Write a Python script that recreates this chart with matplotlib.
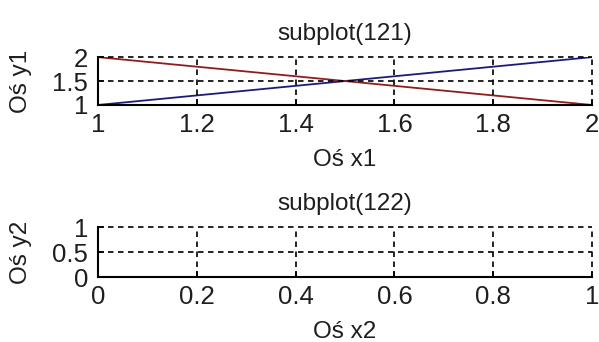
import matplotlib
matplotlib.use("Agg")
import matplotlib.pyplot as plt

plt.rcParams['font.family'] = ['Liberation Sans', 'DejaVu Sans']

# Data for the first panel: two straight lines crossing at (1.5, 1.5)
x1 = [1, 2]
y1_rising = [1, 2]
y1_falling = [2, 1]

x1_ticks = [1, 1.2, 1.4, 1.6, 1.8, 2]
x1_ticklabels = ['1', '1.2', '1.4', '1.6', '1.8', '2']
y1_ticks = [1, 1.5, 2]
y1_ticklabels = ['1', '1.5', '2']
x2_ticks = [0, 0.2, 0.4, 0.6, 0.8, 1]
x2_ticklabels = ['0', '0.2', '0.4', '0.6', '0.8', '1']
y2_ticks = [0, 0.5, 1]
y2_ticklabels = ['0', '0.5', '1']

titles = ["subplot(121)", "subplot(122)"]
xlabels = ["Oś x1", "Oś x2"]
ylabels = ["Oś y1", "Oś y2"]

TICK_FS = 18.5
LABEL_FS = 17.5
TEXT_COLOR = '#1e1e1e'

fig = plt.figure(figsize=(5.99, 3.42), dpi=100)
ax1 = fig.add_axes([0.1636, 0.693, 0.8247, 0.140])
ax2 = fig.add_axes([0.1636, 0.190, 0.8247, 0.146])

ax1.plot(x1, y1_rising, color='#1c1c78', lw=1.3)
ax1.plot(x1, y1_falling, color='#8e1e1e', lw=1.3)
ax1.set_xlim(1, 2)
ax1.set_ylim(1, 2)
ax1.set_xticks(x1_ticks, x1_ticklabels)
ax1.set_yticks(y1_ticks, y1_ticklabels)

ax2.set_xlim(0, 1)
ax2.set_ylim(0, 1)
ax2.set_xticks(x2_ticks, x2_ticklabels)
ax2.set_yticks(y2_ticks, y2_ticklabels)

for ax, t, xl, yl in zip([ax1, ax2], titles, xlabels, ylabels):
    ax.set_title(t, fontsize=LABEL_FS, pad=12, color=TEXT_COLOR)
    ax.set_xlabel(xl, fontsize=LABEL_FS, labelpad=8.5, color=TEXT_COLOR)
    ax.set_ylabel(yl, fontsize=LABEL_FS, color=TEXT_COLOR)
    ax.spines['top'].set_visible(False)
    ax.spines['right'].set_visible(False)
    ax.spines['left'].set_linewidth(1.5)
    ax.spines['bottom'].set_linewidth(1.5)
    ax.tick_params(direction='in', length=4, width=1.2, labelsize=TICK_FS,
                   labelcolor=TEXT_COLOR)
    ax.tick_params(axis='x', pad=6)
    ax.tick_params(axis='y', pad=7)
    ax.grid(True, color='black', linestyle=(0, (3.3, 2.7)), linewidth=1.2)
    for gl in ax.get_xgridlines() + ax.get_ygridlines():
        gl.set_clip_on(False)
    ax.set_axisbelow(False)
    ax.yaxis.set_label_coords(-0.133, 0.5)

fig.savefig("out.png", dpi=100)
